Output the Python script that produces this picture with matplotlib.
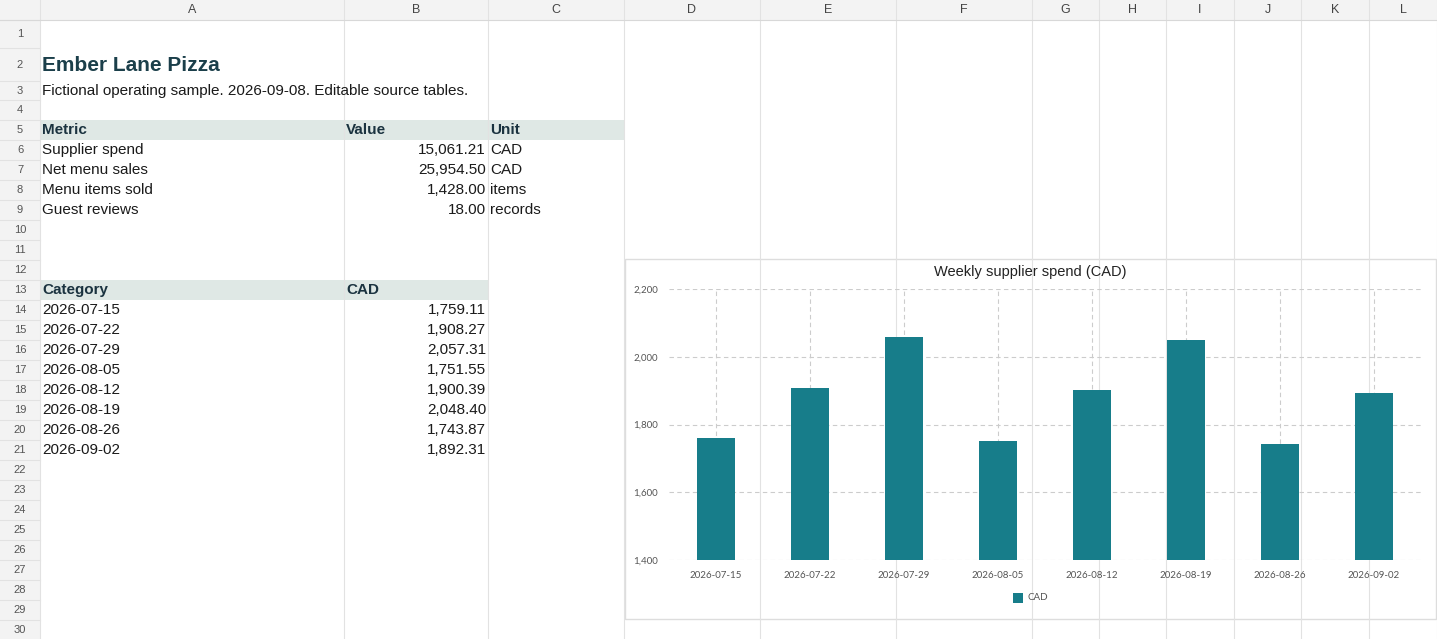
import matplotlib
matplotlib.use("Agg")
import matplotlib.pyplot as plt
from matplotlib.patches import Rectangle

W, H = 1437, 639
col_names = ["A","B","C","D","E","F","G","H","I","J","K","L"]
col_edges = [40,344,488,624,760,896,1032,1099,1166,1234,1301,1369,1437]
row_edges = [20,48,81,100] + [100 + 20*i for i in range(1, 28)]

metric_hdr = ["Metric", "Value", "Unit"]
metrics = ["Supplier spend", "Net menu sales", "Menu items sold", "Guest reviews"]
metric_vals = ["15,061.21", "25,954.50", "1,428.00", "18.00"]
metric_units = ["CAD", "CAD", "items", "records"]

categories = ["2026-07-15","2026-07-22","2026-07-29","2026-08-05","2026-08-12","2026-08-19","2026-08-26","2026-09-02"]
values = [1759.11, 1908.27, 2057.31, 1751.55, 1900.39, 2048.40, 1743.87, 1892.31]

fig = plt.figure(figsize=(W/100, H/100), dpi=100)
bg = fig.add_axes([0, 0, 1, 1])
bg.set_xlim(0, W); bg.set_ylim(H, 0); bg.axis("off")
FONT = "Liberation Sans"
grid_c = "#e2e2e2"
# header bars
bg.add_patch(Rectangle((0, 0), W, 20, color="#f3f3f3", lw=0))
bg.add_patch(Rectangle((0, 0), 40, H, color="#f3f3f3", lw=0))
for x in col_edges:
    bg.plot([x, x], [0, H], color=grid_c, lw=0.8)
for y in row_edges:
    bg.plot([0, 40], [y, y], color=grid_c, lw=0.8)
bg.plot([0, W], [20, 20], color="#d8d8d8", lw=0.8)
for i, n in enumerate(col_names):
    bg.text((col_edges[i]+col_edges[i+1])/2, 10, n, ha="center", va="center", fontsize=9, color="#444", family=FONT)
for r in range(30):
    bg.text(20, (row_edges[r]+row_edges[r+1])/2 if r+1 < len(row_edges) else row_edges[r]+10,
            str(r+1), ha="center", va="center", fontsize=8, color="#555", family=FONT)

def rc(r):
    return (row_edges[r-1]+row_edges[r])/2

tc = "#1a1a1a"
bg.text(42, rc(2)+1, "Ember Lane Pizza", fontsize=15, fontweight="bold", color="#1b3f4a", va="center", family=FONT)
bg.text(42, rc(3), "Fictional operating sample. 2026-09-08. Editable source tables.", fontsize=11, color=tc, va="center", family=FONT)
hdr_c = "#dfe8e5"
bg.add_patch(Rectangle((40, row_edges[4]), 584, 20, color=hdr_c, lw=0))
bg.text(42, rc(5), metric_hdr[0], fontsize=11, fontweight="bold", color="#1b3340", va="center", family=FONT)
bg.text(346, rc(5), metric_hdr[1], fontsize=11, fontweight="bold", color="#1b3340", va="center", family=FONT)
bg.text(490, rc(5), metric_hdr[2], fontsize=11, fontweight="bold", color="#1b3340", va="center", family=FONT)
for i in range(4):
    bg.text(42, rc(6+i), metrics[i], fontsize=11, color=tc, va="center", family=FONT)
    bg.text(486, rc(6+i), metric_vals[i], fontsize=11, color=tc, va="center", ha="right", family=FONT)
    bg.text(490, rc(6+i), metric_units[i], fontsize=11, color=tc, va="center", family=FONT)
bg.add_patch(Rectangle((40, row_edges[12]), 448, 20, color=hdr_c, lw=0))
bg.text(42, rc(13), "Category", fontsize=11, fontweight="bold", color="#1b3340", va="center", family=FONT)
bg.text(346, rc(13), "CAD", fontsize=11, fontweight="bold", color="#1b3340", va="center", family=FONT)
for i, (c, v) in enumerate(zip(categories, values)):
    bg.text(42, rc(14+i), c, fontsize=11, color=tc, va="center", family=FONT)
    bg.text(486, rc(14+i), f"{v:,.2f}", fontsize=11, color=tc, va="center", ha="right", family=FONT)

# chart box
bg.add_patch(Rectangle((624.5, 258.5), 811, 360, facecolor="white", edgecolor="#dddddd", lw=1))
bg.text(1030, 272, "Weekly supplier spend (CAD)", fontsize=10.5, ha="center", va="center", color="#222", family=FONT)
teal = "#177d8a"
bg.add_patch(Rectangle((1013, 593), 10, 10, color=teal, lw=0))
bg.text(1028, 598, "CAD", fontsize=7, va="center", color="#555", family="Lato")

ax = fig.add_axes([669/W, 1-560/H, 752/W, (560-289)/H])
ax.set_facecolor("none")
x = range(len(categories))
ax.bar(x, [v-1400 for v in values], bottom=1400, width=0.4, color=teal, zorder=3)
ax.set_xlim(-0.5, 7.5); ax.set_ylim(1400, 2200)
ax.set_yticks([1400, 1600, 1800, 2000, 2200])
ax.set_yticklabels(["1,400","1,600","1,800","2,000","2,200"])
ax.set_xticks(list(x)); ax.set_xticklabels(categories)
ax.grid(True, color="#cccccc", ls=(0, (4, 3)), lw=0.8, zorder=0)
for s in ax.spines.values(): s.set_visible(False)
ax.tick_params(length=0, labelsize=7, colors="#555", pad=8)
for t in ax.get_xticklabels() + ax.get_yticklabels():
    t.set_family("Lato")
fig.savefig("out.png", dpi=100)
